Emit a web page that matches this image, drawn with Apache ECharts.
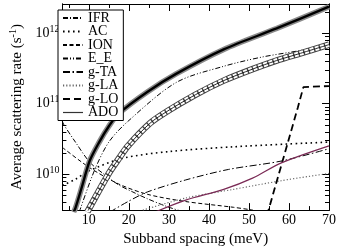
<!DOCTYPE html>
<html><head><meta charset="utf-8">
<script src="https://cdn.jsdelivr.net/npm/echarts@6/dist/echarts.min.js"></script>
<style>html,body{margin:0;padding:0;background:#fff}#c{width:339px;height:252px}</style>
</head><body><div id="c"></div>
<script>
// ---- data ----
const xTickLabels = [10, 20, 30, 40, 50, 60, 70];
const xMinorTicks = [5, 15, 25, 35, 45, 55, 65];
const yMajorTicks = [1e10, 1e11, 1e12];
const yMinorTicks = [4e9,5e9,6e9,7e9,8e9,9e9,2e10,3e10,4e10,5e10,6e10,7e10,8e10,9e10,2e11,3e11,4e11,5e11,6e11,7e11,8e11,9e11,2e12];

const totalX = [6.2, 6.65, 8.3, 10.2, 12.6, 15, 17.4, 24.6, 31.8, 43.7, 56.9, 70];
const totalY = [2.9e9, 3.3e9, 6.7e9, 1.54e10, 2.86e10, 4.8e10, 7.2e10, 1.47e11, 2.65e11, 5.9e11, 1.17e12, 2.38e12];

const circX = [9.6, 15, 17.4, 19.8, 25.3, 29.4, 36.6, 43.7, 50.9, 56.9, 62.9, 70];
const circY = [2.9e9, 1.03e10, 1.64e10, 2.53e10, 5.3e10, 7.7e10, 1.34e11, 2.13e11, 3.1e11, 4.1e11, 5.2e11, 6.9e11];

const ifrX = [3.4, 3.8, 6.65, 10.2, 13.8, 17.4, 21, 24.6, 29.4, 33];
const ifrY = [5.6e10, 5.0e10, 2.86e10, 1.49e10, 1.0e10, 7.1e9, 5.6e9, 4.5e9, 3.5e9, 3.0e9];

const acX = [3.4, 3.8, 6.65, 10.2, 18.6, 30.1, 46.1, 70];
const acY = [6.9e9, 7.1e9, 8.5e9, 1.13e10, 1.69e10, 2.1e10, 2.45e10, 2.86e10];

const ionX = [3.4, 3.8, 10.2, 17.4, 24.6, 34.2, 46.1, 51];
const ionY = [2.4e10, 2.3e10, 1.24e10, 7.3e9, 5.2e9, 4.1e9, 3.4e9, 3.1e9];

const eeX = [7.6, 11.4, 15, 19.8, 31.8, 43.7, 53.3, 62.9, 70];
const eeY = [2.9e9, 1.13e10, 2.86e10, 5.65e10, 2.0e11, 3.4e11, 4.6e11, 5.7e11, 6.9e11];

const gtaX = [15.2, 19.8, 24.6, 34.2, 44.9, 58.1, 70];
const gtaY = [2.9e9, 4.1e9, 5.6e9, 8.3e9, 1.17e10, 1.54e10, 2.3e10];

const glaX = [23.5, 34.2, 46.1, 58.1, 70];
const glaY = [3.1e9, 4.6e9, 6.1e9, 8.1e9, 1.03e10];

const gloX = [54.5, 58.8, 62.2, 63.6, 66, 70];
const gloY = [2.6e9, 1.85e10, 8.8e10, 1.72e11, 1.75e11, 1.78e11];

const adoX = [26.5, 34.2, 43.7, 50.9, 58.1, 70];
const adoY = [2.9e9, 4.3e9, 6.1e9, 8.8e9, 1.45e10, 2.53e10];

const legendNames = ['IFR', 'AC', 'ION', 'E_E', 'g-TA', 'g-LA', 'g-LO', 'ADO'];

// ---- chart ----
const zip = (xs, ys) => xs.map((x, i) => [x, ys[i]]);
const FONT = 'Liberation Serif';
const X_MIN = 3.4, X_MAX = 70, Y_MIN = 3.1e9, Y_MAX = 2.6e12;

function line(name, xs, ys, color, width, dash, smooth, z) {
  return {
    name, type: 'line', data: zip(xs, ys), symbol: 'none', showSymbol: false, smooth: smooth,
    clip: true, z: z || 2, silent: true, animation: false,
    itemStyle: { color: color },
    lineStyle: { color, width, type: dash || 'solid', cap: 'butt' }
  };
}

function xAx(pos, ticks, len, labels) {
  return {
    type: 'value', position: pos, min: X_MIN, max: X_MAX,
    axisLine: { show: true, onZero: false, lineStyle: { color: '#000', width: 1 } },
    axisTick: { show: true, inside: true, length: len, customValues: ticks, lineStyle: { color: '#000' } },
    axisLabel: labels ? { show: true, customValues: ticks, margin: 3, fontFamily: FONT, fontSize: 14, color: '#000' } : { show: false },
    splitLine: { show: false }
  };
}
function yAx(pos, ticks, len, labels) {
  return {
    type: 'log', logBase: 10, position: pos, min: Y_MIN, max: Y_MAX,
    axisLine: { show: true, onZero: false, lineStyle: { color: '#000', width: 1 } },
    axisTick: { show: true, inside: true, length: len, customValues: ticks, lineStyle: { color: '#000' } },
    axisLabel: labels ? {
      show: true, customValues: ticks, margin: 3, fontFamily: FONT, fontSize: 14, color: '#000',
      formatter: v => '10{sup|' + Math.round(Math.log10(v)) + '}',
      rich: { sup: { fontFamily: FONT, fontSize: 10, verticalAlign: 'bottom', padding: [0, 0, 8, 0], color: '#000' } }
    } : { show: false },
    splitLine: { show: false }
  };
}

const xa0 = xAx('bottom', xTickLabels, 7, true);
xa0.name = 'Subband spacing (meV)';
xa0.nameLocation = 'middle';
xa0.nameGap = 15;
xa0.nameTextStyle = { fontFamily: FONT, fontSize: 15, color: '#000', verticalAlign: 'top' };

const ya0 = yAx('left', yMajorTicks, 7, true);
ya0.name = 'Average scattering rate (s{sup|-1})';
ya0.nameLocation = 'middle';
ya0.nameGap = 34;
ya0.nameTextStyle = { fontFamily: FONT, fontSize: 15, color: '#000',
  rich: { sup: { fontFamily: FONT, fontSize: 10, verticalAlign: 'bottom', padding: [0, 0, 8, 0], color: '#000' } } };

const series = [
  line('totalHalo', totalX, totalY, '#8a8a8a', 5.5, 'solid', 0.3, 3),
  line('total', totalX, totalY, '#000', 2.4, 'solid', 0.3, 3),
  line('circOuter', circX, circY, '#444', 6.5, 'solid', 0.3, 3),
  line('circInner', circX, circY, '#fff', 4.6, [4, 1.4], 0.3, 3),
  line('circCore', circX, circY, '#111', 0.9, 'solid', 0.3, 3),
  line('IFR', ifrX, ifrY, '#000', 1, [5, 2, 1, 2], 0.3),
  line('AC', acX, acY, '#000', 1.6, [1.6, 3.4], 0.3),
  line('ION', ionX, ionY, '#000', 1, [4, 2.5], 0.3),
  line('E_E', eeX, eeY, '#000', 1, [5, 2, 1, 2, 1, 2], 0.3),
  line('g-TA', gtaX, gtaY, '#000', 1, [7, 2.5, 1.5, 2.5], 0.3),
  line('g-LA', glaX, glaY, '#666', 1.1, [1.2, 2], 0.3),
  line('g-LO', gloX, gloY, '#000', 1.8, [7, 4], false),
  line('ADO', adoX, adoY, '#7a2a55', 1.2, 'solid', 0.3)
];

const chart = echarts.init(document.getElementById('c'), null, { renderer: 'canvas' });
chart.setOption({
  animation: false,
  backgroundColor: '#fff',
  grid: { left: 52, right: 9, top: 4, bottom: 30, containLabel: false },
  xAxis: [xa0, xAx('bottom', xMinorTicks, 4, false), xAx('top', xTickLabels, 7, false), xAx('top', xMinorTicks, 4, false)],
  yAxis: [ya0, yAx('left', yMinorTicks, 4, false), yAx('right', yMajorTicks, 7, false), yAx('right', yMinorTicks, 4, false)],
  legend: {
    show: true, orient: 'vertical', left: 58, top: 10,
    data: legendNames.map(n => n === 'ADO' ? { name: n, lineStyle: { color: '#333', width: 1.2 } } : { name: n }),
    itemWidth: 20, itemHeight: 10, itemGap: -0.5,
    padding: [1, 5, 1, 4],
    itemStyle: { opacity: 0, borderWidth: 0 },
    backgroundColor: '#fff', borderColor: '#000', borderWidth: 1, borderRadius: 0,
    textStyle: { fontFamily: FONT, fontSize: 14, color: '#000' },
    selectedMode: false, z: 10
  },
  series
});
</script></body></html>
